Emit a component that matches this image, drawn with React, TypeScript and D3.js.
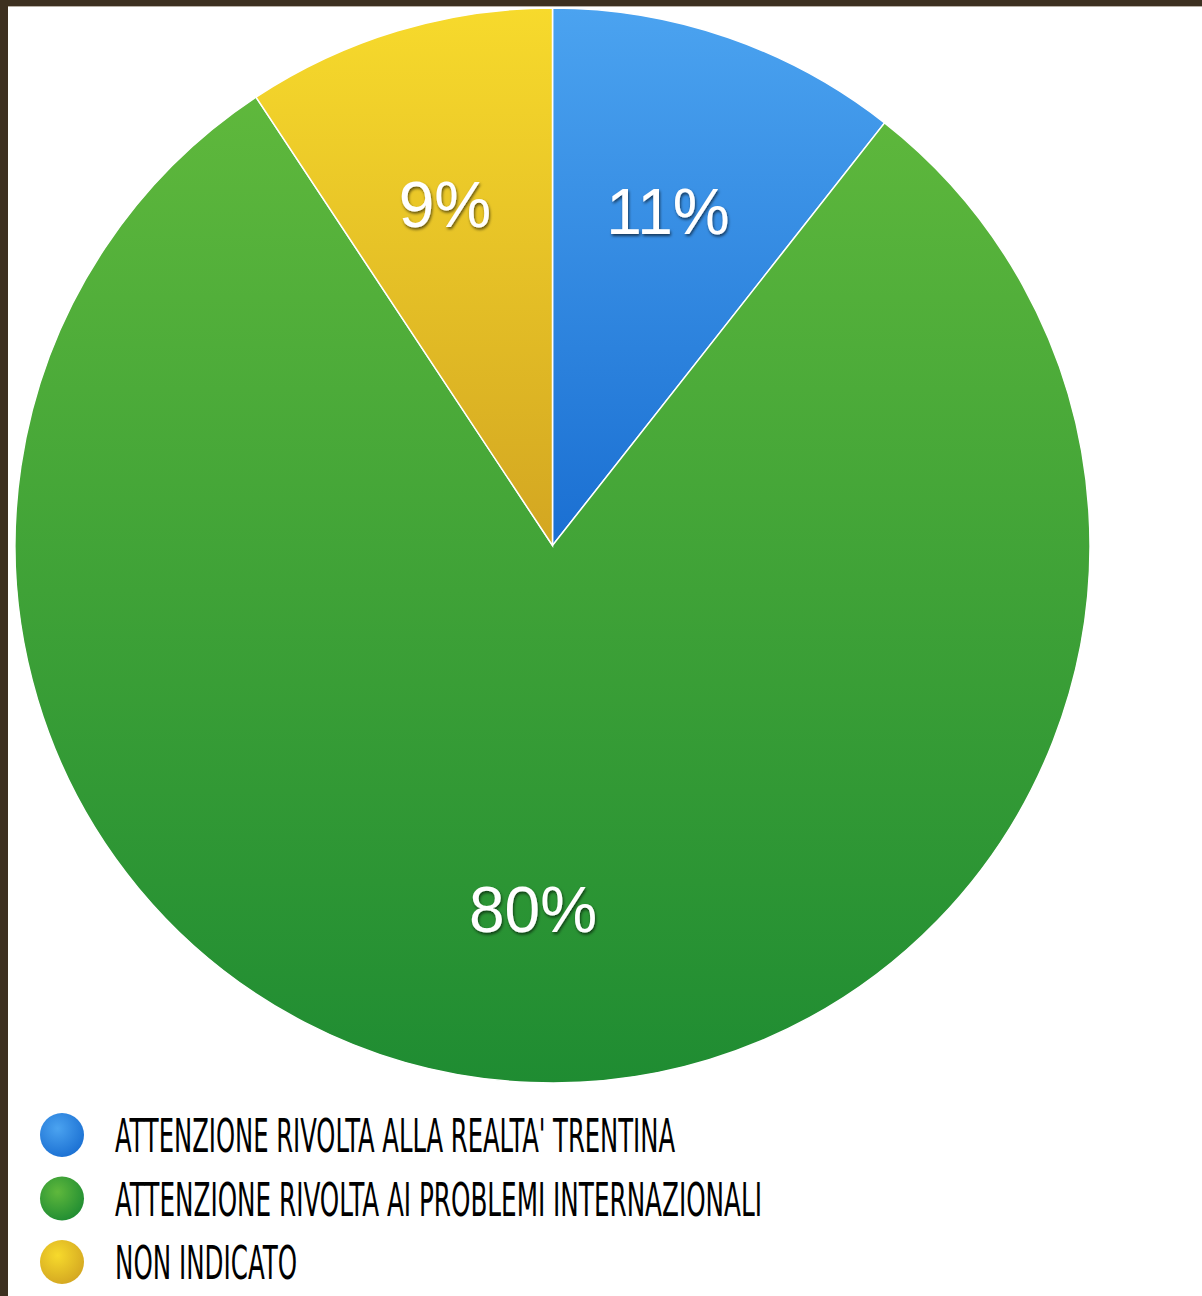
import React from "react";
import * as d3 from "d3";

const categories = [
  "ATTENZIONE RIVOLTA ALLA REALTA' TRENTINA",
  "ATTENZIONE RIVOLTA AI PROBLEMI INTERNAZIONALI",
  "NON INDICATO",
];
const values = [10.6, 80.1, 9.3];
const labels = ["11%", "80%", "9%"];
const topColors = ["#4ba3f0", "#5fb83c", "#f7da2c"];
const bottomColors = ["#1a6fd2", "#1f8c32", "#d3a621"];
const legendTextWidths = [560, 647, 182];

export default function App() {
  const W = 1202, H = 1296;
  const cx = 552.5, cy = 545.5, r = 537.5;
  const pie = d3.pie<number>().sort(null).value((d) => d);
  const arcs = pie(values);
  const arc = d3.arc<d3.PieArcDatum<number>>().innerRadius(0).outerRadius(r);
  const labelPos = [
    [668, 212],
    [533, 910],
    [445, 205],
  ];
  const legendY = d3.scalePoint<number>().domain([0, 1, 2]).range([1135, 1262]);

  return (
    <div style={{ position: "absolute", left: 0, top: 0, width: W, height: H }}>
      <svg width={W} height={H} style={{ display: "block" }}>
        <defs>
          {arcs.map((a, i) => (
            <linearGradient key={i} id={`g${i}`} x1="0" y1="0" x2="0" y2="1">
              <stop offset="0" stopColor={topColors[i]} />
              <stop offset="1" stopColor={bottomColors[i]} />
            </linearGradient>
          ))}
          {arcs.map((a, i) => (
            <radialGradient key={i} id={`lg${i}`} cx="0.4" cy="0.35" r="0.7">
              <stop offset="0" stopColor={topColors[i]} />
              <stop offset="1" stopColor={bottomColors[i]} />
            </radialGradient>
          ))}
          <filter id="sh" x="-20%" y="-20%" width="140%" height="140%">
            <feDropShadow dx="1" dy="2" stdDeviation="1.5" floodColor="#000" floodOpacity="0.6" />
          </filter>
        </defs>
        <rect x={0} y={0} width={W} height={H} fill="#fff" />
        <g transform={`translate(${cx},${cy})`}>
          {arcs.map((a, i) => (
            <path key={i} d={arc(a) || ""} fill={`url(#g${i})`} stroke="#fff" strokeWidth={1.5} />
          ))}
        </g>
        {labels.map((t, i) => (
          <text
            key={i}
            x={labelPos[i][0]}
            y={labelPos[i][1]}
            textAnchor="middle"
            dominantBaseline="central"
            fontFamily="Liberation Sans, Arial, sans-serif"
            fontSize={64}
            fill="#fff"
            filter="url(#sh)"
          >
            {t}
          </text>
        ))}
        {categories.map((c, i) => (
          <g key={i}>
            <circle cx={62} cy={legendY(i)} r={22} fill={`url(#lg${i})`} />
            <text
              x={115}
              y={legendY(i)! + 17}
              fontFamily="DejaVu Sans Condensed, DejaVu Sans, sans-serif"
              fontSize={46}
              fill="#000"
              textLength={legendTextWidths[i]}
              lengthAdjust="spacingAndGlyphs"
            >
              {c}
            </text>
          </g>
        ))}
        <rect x={0} y={0} width={W} height={6} fill="#3d3020" />
        <rect x={0} y={6} width={W} height={1} fill="#b8b0a6" />
        <rect x={0} y={0} width={8} height={H} fill="#3d3020" />
      </svg>
    </div>
  );
}
